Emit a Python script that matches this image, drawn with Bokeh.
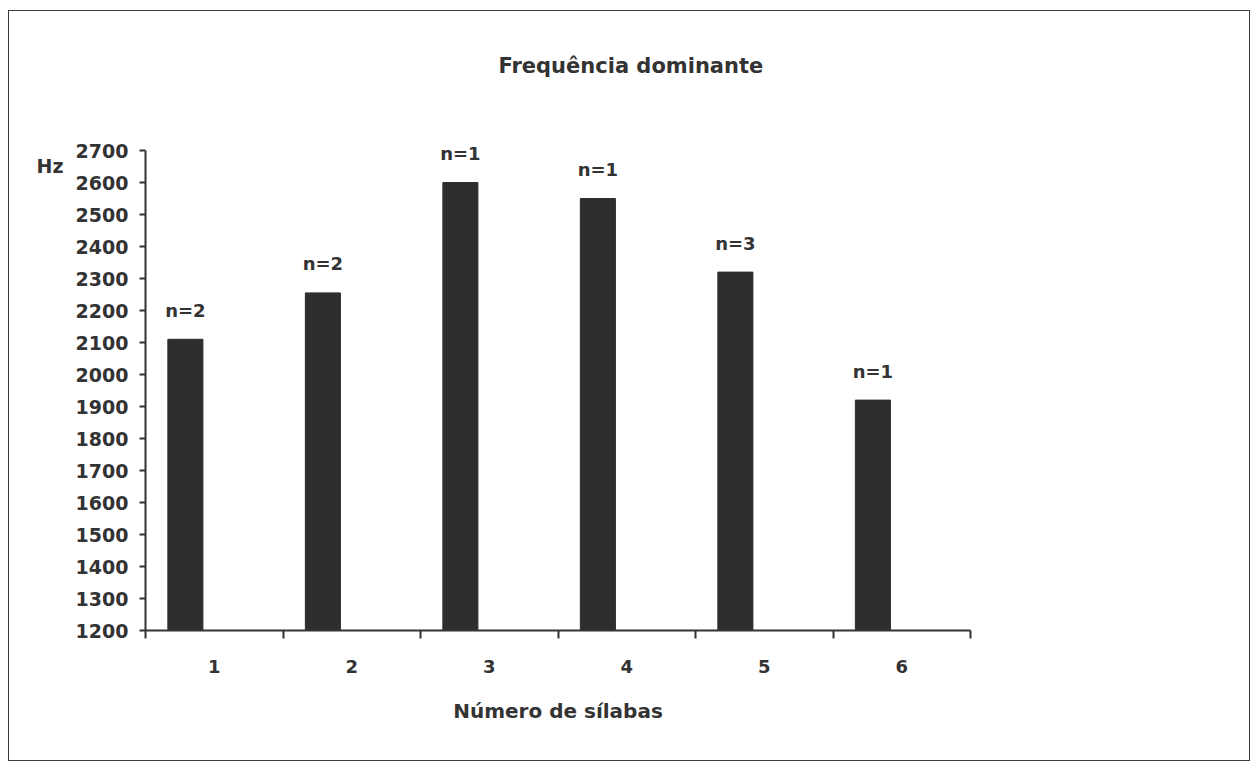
from bokeh.plotting import figure
from bokeh.models import (ColumnDataSource, FixedTicker, LabelSet, LinearAxis,
                          Range1d)
from bokeh.core.properties import value
from bokeh.embed import file_html
from bokeh.resources import INLINE

# Number of syllables, dominant frequency (Hz) and sample size per group
silabas = [1, 2, 3, 4, 5, 6]
frequencia = [2110, 2255, 2600, 2550, 2320, 1920]
n_rotulos = ["n=2", "n=2", "n=1", "n=1", "n=3", "n=1"]
y_ticks = list(range(1200, 2800, 100))

titulo = "Frequência dominante"
eixo_x = "Número de sílabas"
unidade = "Hz"

FONT = "DejaVu Sans"
INK = "#333333"
BAR = "#2e2e2e"

# bars sit a little left of each category centre
bar_x = [s - 0.21 for s in silabas]
src = ColumnDataSource(dict(x=bar_x, top=frequencia, label=n_rotulos))

p = figure(width=1242, height=751, output_backend="svg", toolbar_location=None,
           x_range=Range1d(0.5, 6.5), y_range=Range1d(1200, 2750),
           min_border_left=136, min_border_right=281,
           min_border_top=123, min_border_bottom=132)
p.styles = {"margin-left": "8px", "margin-top": "10px",
            "border": "1px solid #3a3a3a"}
p.background_fill_color = "white"
p.border_fill_color = "white"
p.outline_line_color = None
p.xgrid.grid_line_color = None
p.ygrid.grid_line_color = None

p.vbar(x="x", top="top", bottom=1200, width=0.255, source=src,
       fill_color=BAR, line_color=BAR)

p.add_layout(LabelSet(x="x", y="top", text="label", source=src,
                      y_offset=29, text_align="center", text_baseline="middle",
                      text_font=value(FONT), text_font_style="bold",
                      text_font_size="18px", text_color=INK))

# x axis: labels at category centres, ticks between categories
xa = p.xaxis[0]
xa.ticker = FixedTicker(ticks=silabas,
                        minor_ticks=[s - 0.5 for s in silabas] + [6.5])
xa.major_tick_out = 0
xa.major_tick_in = 0
xa.minor_tick_out = 8
xa.minor_tick_in = 0
xa.minor_tick_line_color = INK
xa.minor_tick_line_width = 2
xa.axis_line_color = INK
xa.axis_line_width = 2
xa.major_label_standoff = 21
xa.major_label_text_font = FONT
xa.major_label_text_font_style = "bold"
xa.major_label_text_font_size = "18px"
xa.major_label_text_color = INK
xa.axis_label = eixo_x
xa.axis_label_standoff = 23
xa.axis_label_text_font = FONT
xa.axis_label_text_font_style = "bold"
xa.axis_label_text_font_size = "20px"
xa.axis_label_text_color = INK

# y axis stops at 2700; the range above leaves room for the n= labels
ya = p.yaxis[0]
ya.bounds = (1200, 2700)
ya.ticker = FixedTicker(ticks=y_ticks, minor_ticks=[])
ya.major_tick_out = 6
ya.major_tick_in = 0
ya.major_tick_line_color = INK
ya.major_tick_line_width = 2
ya.axis_line_color = INK
ya.axis_line_width = 2
ya.major_label_standoff = 11
ya.major_label_text_font = FONT
ya.major_label_text_font_style = "bold"
ya.major_label_text_font_size = "19px"
ya.major_label_text_color = INK

# unit label next to the top of the y axis
hz_pos = 2653
ua = LinearAxis(ticker=FixedTicker(ticks=[hz_pos], minor_ticks=[]),
                major_label_overrides={hz_pos: unidade})
ua.axis_line_color = None
ua.major_tick_line_color = None
ua.major_tick_out = 0
ua.major_tick_in = 0
ua.major_label_standoff = 9
ua.major_label_text_font = FONT
ua.major_label_text_font_style = "bold"
ua.major_label_text_font_size = "19px"
ua.major_label_text_color = INK
p.add_layout(ua, "left")

# chart title above the plot area
title_pos = 4.03
ta = LinearAxis(ticker=FixedTicker(ticks=[title_pos], minor_ticks=[]),
                major_label_overrides={title_pos: titulo})
ta.axis_line_color = None
ta.major_tick_line_color = None
ta.major_tick_out = 0
ta.major_tick_in = 0
ta.major_label_standoff = 57
ta.major_label_text_font = FONT
ta.major_label_text_font_style = "bold"
ta.major_label_text_font_size = "21px"
ta.major_label_text_color = INK
p.add_layout(ta, "above")

open("out.html", "w").write(file_html(p, INLINE))
